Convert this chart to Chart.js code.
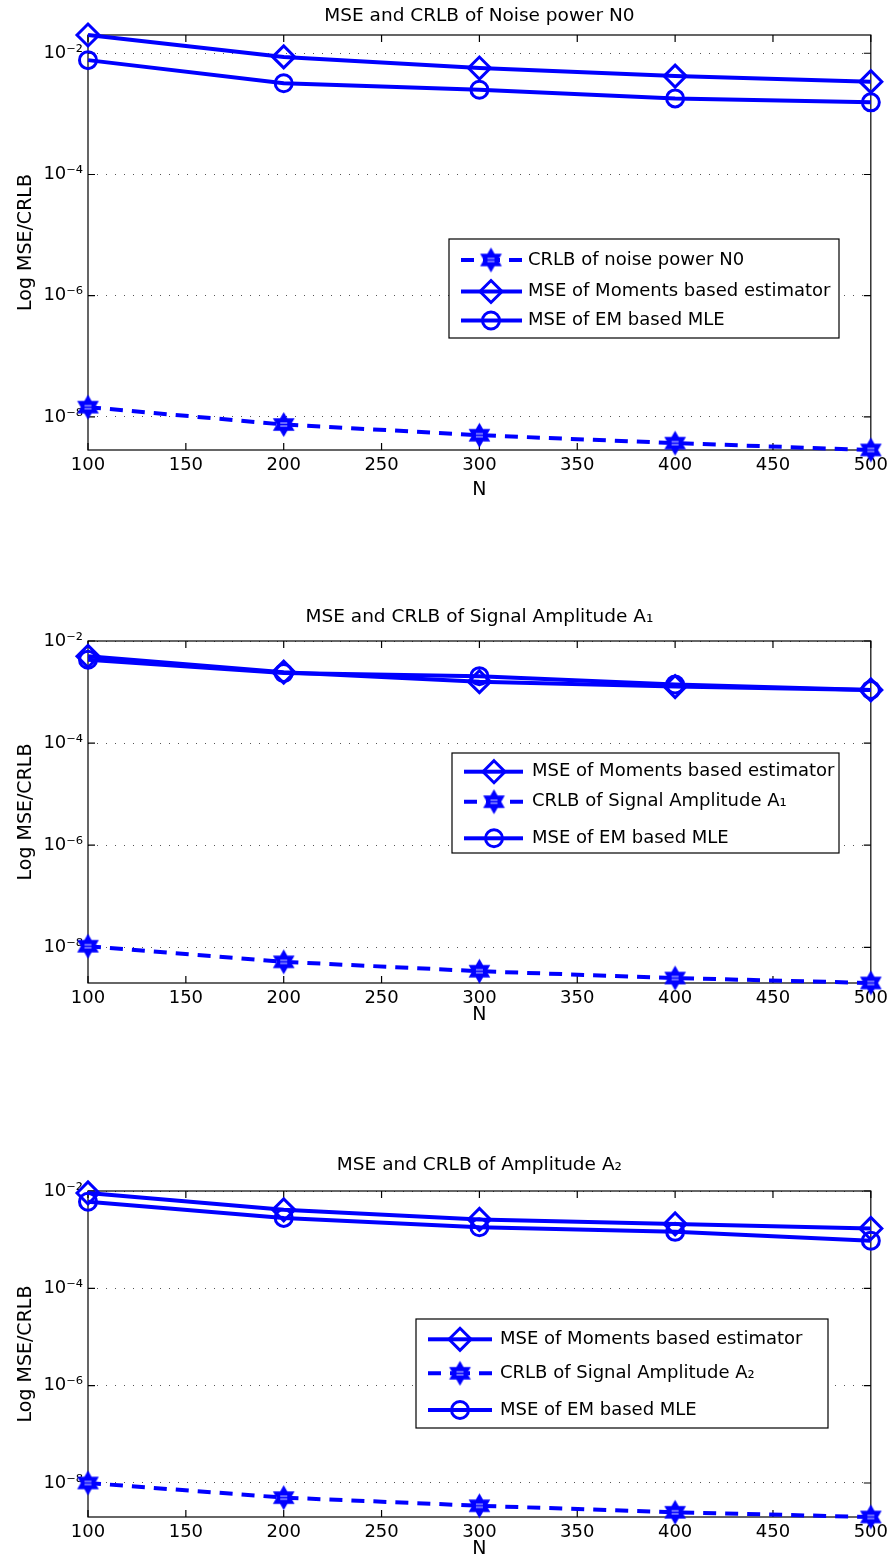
<!DOCTYPE html>
<html><head><meta charset="utf-8">
<script src="https://cdn.jsdelivr.net/npm/chart.js@4.4.1/dist/chart.umd.min.js"></script>
<style>
html,body{margin:0;padding:0;background:#fff;}
body{width:893px;height:1567px;position:relative;overflow:hidden;}
.panel{position:absolute;left:0;width:893px;}
</style></head><body>
<div class="panel" style="top:0;height:505px"><canvas id="c1"></canvas></div>
<div class="panel" style="top:600px;height:430px"><canvas id="c2"></canvas></div>
<div class="panel" style="top:1148px;height:419px"><canvas id="c3"></canvas></div>
<script>
// ---------- data ----------
const sampleSizes = [100, 200, 300, 400, 500];
const xTicks = [100, 150, 200, 250, 300, 350, 400, 450, 500];
const yTickValues = [1e-8, 1e-6, 1e-4, 1e-2];
const yTickLabels = ['10⁻⁸', '10⁻⁶', '10⁻⁴', '10⁻²'];

// Plot 1: noise power N0
const crlbN0    = [1.45e-8, 7.5e-9, 5.0e-9, 3.7e-9, 2.85e-9];
const momentsN0 = [2.0e-2, 8.7e-3, 5.7e-3, 4.2e-3, 3.4e-3];
const emN0      = [7.7e-3, 3.2e-3, 2.5e-3, 1.8e-3, 1.55e-3];

// Plot 2: signal amplitude A1
const momentsA1 = [5.0e-3, 2.45e-3, 1.6e-3, 1.28e-3, 1.1e-3];
const crlbA1    = [1.05e-8, 5.2e-9, 3.4e-9, 2.5e-9, 2.0e-9];
const emA1      = [4.3e-3, 2.35e-3, 2.05e-3, 1.4e-3, 1.1e-3];

// Plot 3: amplitude A2
const momentsA2 = [9.1e-3, 4.1e-3, 2.6e-3, 2.1e-3, 1.7e-3];
const crlbA2    = [1.0e-8, 5.0e-9, 3.4e-9, 2.5e-9, 2.0e-9];
const emA2      = [6.0e-3, 2.8e-3, 1.8e-3, 1.45e-3, 9.5e-4];

// ---------- styling ----------
const BLUE = '#0000ff';
const FONT = "'DejaVu Sans', 'Liberation Sans', sans-serif";
Chart.defaults.font.family = FONT;
Chart.defaults.color = '#000';

function makeHexagram(R) {
  const s = Math.ceil(2 * R + 4);
  const c = document.createElement('canvas');
  c.width = s; c.height = s;
  const g = c.getContext('2d');
  const cx = s / 2, cy = s / 2;
  g.beginPath();
  for (let i = 0; i < 12; i++) {
    const r = i % 2 === 0 ? R : R / Math.sqrt(3);
    const a = -Math.PI / 2 + i * Math.PI / 6;
    const px = cx + r * Math.cos(a), py = cy + r * Math.sin(a);
    if (i) g.lineTo(px, py); else g.moveTo(px, py);
  }
  g.closePath();
  g.fillStyle = BLUE; g.fill();
  g.strokeStyle = 'rgba(255,255,255,0.85)'; g.lineWidth = 1;
  g.beginPath();
  g.moveTo(cx - 3.5, cy - 1.5); g.lineTo(cx + 3.5, cy - 1.5);
  g.moveTo(cx - 3.5, cy + 1.5); g.lineTo(cx + 3.5, cy + 1.5);
  g.stroke();
  return c;
}
const HEX = makeHexagram(12.5);

function makeDataset(kind, label, values) {
  const base = {
    label,
    data: sampleSizes.map((n, i) => ({ x: n, y: values[i] })),
    borderColor: BLUE, backgroundColor: BLUE, borderWidth: 4, fill: false, tension: 0,
    pointBorderColor: BLUE, pointBackgroundColor: 'rgba(0,0,0,0)', pointBorderWidth: 3,
    clip: false, markerKind: kind
  };
  if (kind === 'diamond') { base.pointStyle = 'rectRot'; base.pointRadius = 11; }
  if (kind === 'circle')  { base.pointStyle = 'circle';  base.pointRadius = 8.5; }
  if (kind === 'hex')     { base.pointStyle = HEX; base.pointRadius = 12; base.borderDash = [13, 9]; }
  return base;
}

// axes box with inward ticks on all four sides
const axesBox = {
  id: 'axesBox',
  beforeDatasetsDraw(chart) {
    const { ctx, chartArea: a, scales } = chart;
    ctx.save();
    ctx.strokeStyle = '#000'; ctx.lineWidth = 1.2; ctx.setLineDash([]);
    ctx.strokeRect(a.left, a.top, a.right - a.left, a.bottom - a.top);
    const L = 7;
    ctx.beginPath();
    scales.x.ticks.forEach(t => {
      const px = scales.x.getPixelForValue(t.value);
      ctx.moveTo(px, a.bottom); ctx.lineTo(px, a.bottom - L);
      ctx.moveTo(px, a.top); ctx.lineTo(px, a.top + L);
    });
    scales.y.ticks.forEach(t => {
      const py = scales.y.getPixelForValue(t.value);
      ctx.moveTo(a.left, py); ctx.lineTo(a.left + L, py);
      ctx.moveTo(a.right, py); ctx.lineTo(a.right - L, py);
    });
    ctx.stroke();
    ctx.restore();
  }
};

function drawMarker(ctx, ds, x, y) {
  ctx.save();
  ctx.setLineDash([]);
  if (ds.markerKind === 'hex') {
    ctx.drawImage(HEX, x - HEX.width / 2, y - HEX.height / 2);
  } else {
    ctx.strokeStyle = BLUE; ctx.lineWidth = ds.pointBorderWidth;
    ctx.beginPath();
    if (ds.markerKind === 'diamond') {
      const r = ds.pointRadius;
      ctx.moveTo(x, y - r); ctx.lineTo(x + r, y); ctx.lineTo(x, y + r); ctx.lineTo(x - r, y); ctx.closePath();
    } else {
      ctx.arc(x, y, ds.pointRadius, 0, Math.PI * 2);
    }
    ctx.stroke();
  }
  ctx.restore();
}

// MATLAB-style boxed legend inside the axes
const boxLegend = {
  id: 'boxLegend',
  afterDraw(chart, args, opts) {
    const ctx = chart.ctx;
    const b = opts.box;
    ctx.save();
    ctx.fillStyle = '#fff';
    ctx.fillRect(b[0], b[1], b[2] - b[0], b[3] - b[1]);
    ctx.strokeStyle = '#000'; ctx.lineWidth = 1.2;
    ctx.strokeRect(b[0], b[1], b[2] - b[0], b[3] - b[1]);
    chart.data.datasets.forEach((ds, i) => {
      const y = opts.rows[i];
      ctx.strokeStyle = ds.borderColor; ctx.lineWidth = ds.borderWidth;
      ctx.setLineDash(ds.borderDash || []);
      ctx.beginPath(); ctx.moveTo(opts.lineX[0], y); ctx.lineTo(opts.markerX, y); ctx.stroke();
      ctx.beginPath(); ctx.moveTo(opts.lineX[1], y); ctx.lineTo(opts.markerX, y); ctx.stroke();
      ctx.setLineDash([]);
      drawMarker(ctx, ds, opts.markerX, y);
      ctx.fillStyle = '#000';
      ctx.font = '18px ' + FONT;
      ctx.textBaseline = 'middle'; ctx.textAlign = 'left';
      ctx.fillText(ds.label, opts.textX, y);
    });
    ctx.restore();
  }
};

function buildChart(id, spec) {
  return new Chart(document.getElementById(id), {
    type: 'line',
    data: { datasets: spec.series },
    options: {
      responsive: true, maintainAspectRatio: false, animation: false, devicePixelRatio: 1,
      events: [],
      layout: { padding: { left: 0, right: 21, top: 0, bottom: 0 } },
      plugins: {
        legend: { display: false },
        tooltip: { enabled: false },
        title: {
          display: true, fullSize: false, text: spec.title, color: '#000',
          font: { size: 18.5, weight: 'normal', family: FONT },
          padding: { top: spec.titlePad[0], bottom: spec.titlePad[1] }
        },
        boxLegend: spec.legend
      },
      scales: {
        x: {
          type: 'linear', min: 100, max: 500,
          afterBuildTicks: s => { s.ticks = xTicks.map(v => ({ value: v })); },
          afterFit: s => { s.height = spec.xAxisHeight; },
          grid: { display: false, drawTicks: false },
          border: { display: false },
          ticks: { padding: 5, color: '#000', font: { size: 18 }, maxRotation: 0, autoSkip: false,
                   callback: v => String(v) },
          title: { display: true, text: 'N', color: '#000', font: { size: 19 },
                   padding: { top: 0, bottom: spec.xTitlePad } }
        },
        y: {
          type: 'logarithmic', min: spec.yMin, max: spec.yMax,
          afterBuildTicks: s => { s.ticks = yTickValues.map(v => ({ value: v })); },
          afterFit: s => { s.width = 88; },
          grid: { display: true, drawTicks: false, color: '#555', lineWidth: 1 },
          border: { display: false, dash: [1, 8] },
          ticks: { padding: 5, color: '#000', font: { size: 18 }, autoSkip: false,
                   callback: v => {
                     const i = yTickValues.findIndex(t => Math.abs(Math.log10(t) - Math.log10(v)) < 1e-6);
                     return i >= 0 ? yTickLabels[i] : '';
                   } },
          title: { display: true, text: 'Log MSE/CRLB', color: '#000', font: { size: 19 },
                   padding: { top: 15, bottom: 0 } }
        }
      }
    },
    plugins: [axesBox, boxLegend]
  });
}

buildChart('c1', {
  title: 'MSE and CRLB of Noise power N0',
  titlePad: [4.9, 7.9], xAxisHeight: 55, xTitlePad: 3.6,
  yMin: 2.85e-9, yMax: 2.0e-2,
  series: [
    makeDataset('hex', 'CRLB of noise power N0', crlbN0),
    makeDataset('diamond', 'MSE of Moments based estimator', momentsN0),
    makeDataset('circle', 'MSE of EM based MLE', emN0)
  ],
  legend: { box: [449, 239, 839, 338], rows: [260, 291.5, 320.5], lineX: [461, 522], markerX: 491, textX: 528 }
});

buildChart('c2', {
  title: 'MSE and CRLB of Signal Amplitude A₁',
  titlePad: [5.9, 12.9], xAxisHeight: 47, xTitlePad: 3.6,
  yMin: 2.0e-9, yMax: 1.0e-2,
  series: [
    makeDataset('diamond', 'MSE of Moments based estimator', momentsA1),
    makeDataset('hex', 'CRLB of Signal Amplitude A₁', crlbA1),
    makeDataset('circle', 'MSE of EM based MLE', emA1)
  ],
  legend: { box: [452, 153, 839, 253], rows: [171.7, 201.7, 238.3], lineX: [464, 523], markerX: 494, textX: 532 }
});

buildChart('c3', {
  title: 'MSE and CRLB of Amplitude A₂',
  titlePad: [5.9, 14.9], xAxisHeight: 50, xTitlePad: 6.6,
  yMin: 2.0e-9, yMax: 1.0e-2,
  series: [
    makeDataset('diamond', 'MSE of Moments based estimator', momentsA2),
    makeDataset('hex', 'CRLB of Signal Amplitude A₂', crlbA2),
    makeDataset('circle', 'MSE of EM based MLE', emA2)
  ],
  legend: { box: [416, 171, 828, 280], rows: [191.3, 225.3, 262], lineX: [428, 492], markerX: 460, textX: 500 }
});
</script>
</body></html>
